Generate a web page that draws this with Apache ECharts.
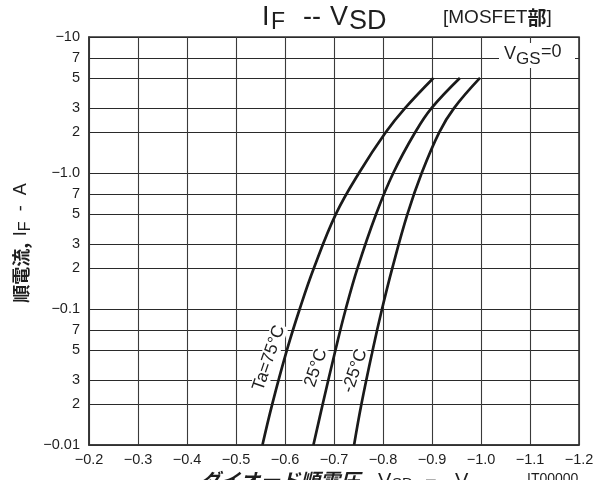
<!DOCTYPE html>
<html><head><meta charset="utf-8">
<script src="https://cdn.jsdelivr.net/npm/echarts@6/dist/echarts.min.js"></script>
<style>html,body{margin:0;padding:0;background:#fff}#c{width:607px;height:480px}</style>
</head><body><div id="c"></div>
<script>
// Current magnitude levels (A) at which each curve was read
const currentLevels = [0.01,0.02,0.05,0.1,0.2,0.5,1,2,3,5];
// Forward voltage magnitude (V) for each temperature
const vsd75  = [0.554,0.574,0.604,0.630,0.659,0.704,0.751,0.806,0.845,0.903];
const vsd25  = [0.658,0.677,0.703,0.724,0.748,0.786,0.821,0.866,0.899,0.957];
const vsdM25 = [0.741,0.756,0.779,0.798,0.819,0.850,0.879,0.915,0.945,0.998];
// Tick values
const yTickValues = [0.01,0.02,0.03,0.05,0.07,0.1,0.2,0.3,0.5,0.7,1,2,3,5,7,10];
const yDecadeLabels = {0.01:'−0.01',0.1:'−0.1',1:'−1.0',10:'−10'};
const xMin = 0.2, xMax = 1.2, xStep = 0.1;

const FONT = '"Liberation Sans", Arial, "Noto Sans CJK JP", sans-serif';
const JP = '"Noto Sans CJK JP", "Liberation Sans", sans-serif';
const TXT = '#1e1e1e';

function pairs(xs){ return xs.map((x,i)=>[x, currentLevels[i]]); }
function yLabel(v){
  for (const k in yDecadeLabels){ if (Math.abs(v - Number(k)) < Number(k)*1e-6) return yDecadeLabels[k]; }
  const e = Math.floor(Math.log10(v) + 1e-9);
  return String(Math.round(v / Math.pow(10, e)));
}
const lineStyle = {color:'#1a1a1a', width:2.7};
const chart = echarts.init(document.getElementById('c'), null, {renderer:'canvas'});
const deg = Math.PI/180;
const curve = (name, xs) => ({type:'line', name, data:pairs(xs), smooth:0.4, symbol:'none', lineStyle, z:5});
chart.setOption({
  backgroundColor:'#fff',
  animation:false,
  grid:{left:89, right:28, top:37, bottom:35, show:true, borderColor:'#333', borderWidth:1.6, backgroundColor:'transparent'},
  xAxis:{
    type:'value', min:xMin, max:xMax, interval:xStep,
    axisLine:{show:true, lineStyle:{color:'#333', width:1.6}},
    axisTick:{show:false},
    axisLabel:{color:TXT, fontFamily:FONT, fontSize:14.5, margin:8, formatter:v=>'−'+v.toFixed(1)},
    splitLine:{show:true, lineStyle:{color:'#3a3a3a', width:1.1}}
  },
  yAxis:{
    type:'log', logBase:10, min:0.01, max:10,
    axisLine:{show:true, lineStyle:{color:'#333', width:1.6}},
    axisTick:{show:false, customValues:yTickValues},
    axisLabel:{color:TXT, fontFamily:FONT, fontSize:14.5, margin:9, customValues:yTickValues, formatter:yLabel},
    splitLine:{show:true, lineStyle:{color:'#2a2a2a', width:1.1}}
  },
  series:[
    curve('Ta=75°C', vsd75),
    curve('25°C', vsd25),
    curve('-25°C', vsdM25)
  ],
  graphic:[
    // title
    {type:'text', x:262, y:4, style:{text:'I', font:'27px '+FONT, fill:TXT}},
    {type:'text', x:271, y:11, style:{text:'F', font:'23px '+FONT, fill:TXT}},
    {type:'text', x:303, y:4, style:{text:'--', font:'27px '+FONT, fill:TXT}},
    {type:'text', x:330, y:4, style:{text:'V', font:'27px '+FONT, fill:TXT}},
    {type:'text', x:349, y:8, style:{text:'SD', font:'27px '+FONT, fill:TXT}},
    {type:'text', x:443, y:8, style:{text:'{n|[MOSFET}{b|部}{n|]}', rich:{n:{font:'19px '+FONT, fill:TXT}, b:{font:'bold 19px '+JP, fill:TXT}}}},
    // VGS label
    {type:'rect', shape:{x:499, y:43, width:76, height:25}, style:{fill:'#fff'}, z:10},
    {type:'text', x:504, y:45, z:11, style:{text:'V', font:'18px '+FONT, fill:TXT}},
    {type:'text', x:516, y:51, z:11, style:{text:'GS', font:'17px '+FONT, fill:TXT}},
    {type:'text', x:541, y:43, z:11, style:{text:'=0', font:'18px '+FONT, fill:TXT}},
    // curve labels
    {type:'text', x:269, y:358, rotation:71*deg, z:12, style:{text:'Ta=75°C', font:'17.5px '+FONT, fill:TXT, align:'center', verticalAlign:'middle', backgroundColor:'#fff', padding:[0,1]}},
    {type:'text', x:316, y:368, rotation:71*deg, z:12, style:{text:'25°C', font:'17.5px '+FONT, fill:TXT, align:'center', verticalAlign:'middle', backgroundColor:'#fff', padding:[0,1]}},
    {type:'text', x:355, y:371, rotation:71*deg, z:12, style:{text:'-25°C', font:'17.5px '+FONT, fill:TXT, align:'center', verticalAlign:'middle', backgroundColor:'#fff', padding:[0,1]}},
    // y axis name
    {type:'text', x:21, y:243, rotation:90*deg, style:{text:'{b|順電流,}  {n|I}{s|F}{n|  -  A}', align:'center', verticalAlign:'middle',
      rich:{b:{font:'bold 18px '+JP, fill:TXT}, n:{font:'18px '+FONT, fill:TXT}, s:{font:'16px '+FONT, fill:TXT, padding:[10,0,0,0]}}}},
    // x axis name (cut off at bottom)
    {type:'text', x:200, y:470, style:{text:'ダイオード順電圧,', font:'italic bold 20px '+JP, fill:TXT}},
    {type:'text', x:378, y:471, style:{text:'V', font:'20px '+FONT, fill:TXT}},
    {type:'text', x:392, y:476, style:{text:'SD', font:'15px '+FONT, fill:TXT}},
    {type:'text', x:425, y:471, style:{text:'−', font:'20px '+FONT, fill:TXT}},
    {type:'text', x:455, y:471, style:{text:'V', font:'20px '+FONT, fill:TXT}},
    {type:'text', x:527, y:472, style:{text:'IT00000', font:'14px '+FONT, fill:TXT}}
  ]
});
</script></body></html>
